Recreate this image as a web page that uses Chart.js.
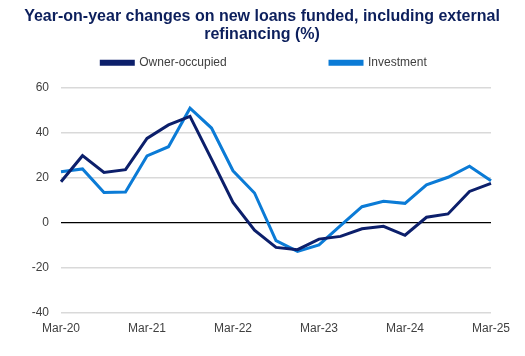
<!DOCTYPE html>
<html>
<head>
<meta charset="utf-8">
<script src="https://cdn.jsdelivr.net/npm/chart.js@4"></script>
<style>
html,body{margin:0;padding:0;background:#fff;}
#wrap{width:525px;height:356px;}
</style>
</head>
<body>
<div id="wrap"><canvas id="c" width="525" height="356"></canvas></div>
<script>
const categories = ["Mar-20","Jun-20","Sep-20","Dec-20","Mar-21","Jun-21","Sep-21","Dec-21","Mar-22","Jun-22","Sep-22","Dec-22","Mar-23","Jun-23","Sep-23","Dec-23","Mar-24","Jun-24","Sep-24","Dec-24","Mar-25"];
const ownerOccupied = [18.2, 29.8, 22.3, 23.6, 37.5, 43.5, 47.3, 28.3, 9.0, -3.3, -11.0, -12.0, -7.3, -6.1, -2.7, -1.6, -5.6, 2.4, 3.9, 13.9, 17.5];
const investment = [22.7, 23.9, 13.4, 13.6, 29.7, 33.8, 50.9, 42.1, 23.1, 13.2, -8.0, -12.8, -9.9, -1.3, 7.1, 9.5, 8.6, 16.8, 20.2, 25.1, 18.7];
const shownTickLabels = ["Mar-20","Mar-21","Mar-22","Mar-23","Mar-24","Mar-25"];
const yTicks = [-40, -20, 0, 20, 40, 60];

const FONT = "'Liberation Sans', Arial, sans-serif";
const navy = "#0c1f6b";
const blue = "#0b7bd6";

const headerPlacement = {
  id: 'headerPlacement',
  beforeInit(chart) {
    const lg = chart.legend;
    if (!lg) return;
    const orig = lg.fit;
    lg.fit = function() { orig.call(this); this.height += 9; };
  },
  afterLayout(chart) {
    if (chart.legend) { chart.legend.left = 37; chart.legend.right = 491; }
    if (chart.titleBlock) { chart.titleBlock.left = 20; chart.titleBlock.right = 504; chart.titleBlock.width = 484; }
  }
};

new Chart(document.getElementById('c'), {
  type: 'line',
  data: {
    labels: categories,
    datasets: [
      {label: 'Owner-occupied', data: ownerOccupied, borderColor: navy, backgroundColor: navy, borderWidth: 3, pointRadius: 0, tension: 0},
      {label: 'Investment', data: investment, borderColor: blue, backgroundColor: blue, borderWidth: 3, pointRadius: 0, tension: 0}
    ]
  },
  plugins: [headerPlacement],
  options: {
    responsive: false,
    animation: false,
    layout: {padding: {left: 4, right: 34, top: 4, bottom: 11}},
    plugins: {
      title: {
        display: true,
        text: ['Year-on-year changes on new loans funded, including external', 'refinancing (%)'],
        color: '#0c1f5c',
        font: {family: FONT, size: 16, weight: 'bold', lineHeight: 1.15},
        padding: {top: 3, bottom: 3}
      },
      legend: {
        display: true,
        labels: {
          font: {family: FONT, size: 12},
          color: '#404040',
          boxWidth: 32,
          boxHeight: 3,
          padding: 10,
          generateLabels: function(chart) {
            const items = Chart.defaults.plugins.legend.labels.generateLabels(chart);
            items.forEach((it, i) => { if (i === 0) it.text = it.text + ' '.repeat(28); });
            return items;
          }
        }
      },
      tooltip: {enabled: false}
    },
    scales: {
      x: {
        grid: {display: false, drawTicks: false},
        border: {display: false},
        ticks: {
          autoSkip: false,
          maxRotation: 0,
          padding: 9,
          color: '#404040',
          font: {family: FONT, size: 12},
          callback: function(v, i) { const l = categories[i]; return shownTickLabels.includes(l) ? l : ''; }
        }
      },
      y: {
        min: -40, max: 60,
        afterBuildTicks: function(axis) { axis.ticks = yTicks.map(v => ({value: v})); },
        afterFit: function(axis) { axis.width = 57; },
        grid: {
          drawTicks: false,
          color: ctx => ctx.tick && ctx.tick.value === 0 ? '#000000' : '#d9d9d9',
          lineWidth: ctx => ctx.tick && ctx.tick.value === 0 ? 1.2 : 1.5
        },
        border: {display: false},
        ticks: {
          padding: 12,
          color: '#404040',
          font: {family: FONT, size: 12}
        }
      }
    }
  }
});
</script>
</body>
</html>
